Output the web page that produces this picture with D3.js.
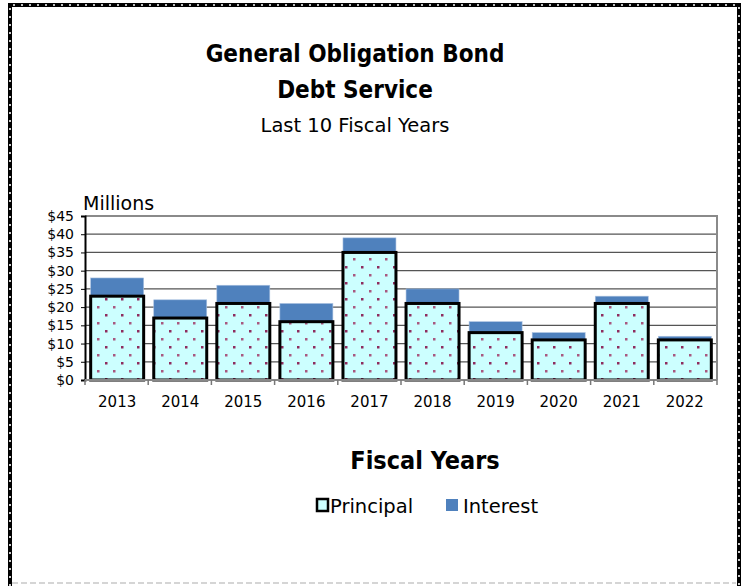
<!DOCTYPE html>
<html>
<head>
<meta charset="utf-8">
<script src="https://cdn.jsdelivr.net/npm/d3@7"></script>
<style>
  body { margin: 0; background: #fff; }
  svg { display: block; }
</style>
</head>
<body>
<div id="chart"></div>
<script>
const years = ["2013", "2014", "2015", "2016", "2017", "2018", "2019", "2020", "2021", "2022"];
const principal = [23, 17, 21, 16, 35, 21, 13, 11, 21, 11];
const interest = [5, 5, 5, 5, 4, 4, 3, 2, 2, 1];
const yTicks = [0, 5, 10, 15, 20, 25, 30, 35, 40, 45];

const W = 741, H = 586;
const margin = {top: 216, right: 24, bottom: 206, left: 85};
const fontB = "Tahoma, 'DejaVu Sans Condensed', 'DejaVu Sans', sans-serif";
const fontR = "Tahoma, 'DejaVu Sans', sans-serif";

function draw_chart(wrapper)
{
  let svg = d3.select(wrapper).append("svg").attr("width", W).attr("height", H);

  let visWidth = W - margin.left - margin.right;
  let visHeight = H - margin.top - margin.bottom;

  // dotted fill for principal bars
  let pat = svg.append("defs").append("pattern")
    .attr("id", "dots")
    .attr("patternUnits", "userSpaceOnUse")
    .attr("width", 16).attr("height", 16)
    .attr("x", 4).attr("y", 2);
  pat.append("rect").attr("width", 16).attr("height", 16).attr("fill", "#ccffff");
  pat.append("rect").attr("x", 0).attr("y", 0).attr("width", 2.5).attr("height", 2.5).attr("fill", "#8e2b5e");
  pat.append("rect").attr("x", 8).attr("y", 8).attr("width", 2.5).attr("height", 2.5).attr("fill", "#a8587f");

  // frame
  let frame = svg.append("g");
  frame.append("line").attr("x1", 12).attr("x2", 736).attr("y1", 583).attr("y2", 583)
    .attr("stroke", "#c8c8c8").attr("stroke-width", 1.5).attr("stroke-dasharray", "6,3");
  let fpath = "M10,586 L10,5 L739,5 L739,586";
  frame.append("path").attr("d", fpath).attr("fill", "none")
    .attr("stroke", "#000").attr("stroke-width", 4);
  frame.append("path").attr("d", fpath).attr("fill", "none")
    .attr("stroke", "#fff").attr("stroke-width", 1.6).attr("stroke-dasharray", "2,6");

  // titles
  svg.append("text").attr("x", 355).attr("y", 62).attr("text-anchor", "middle")
    .attr("font-family", fontB).attr("font-size", "24px").attr("font-weight", "bold")
    .text("General Obligation Bond");
  svg.append("text").attr("x", 355).attr("y", 98).attr("text-anchor", "middle")
    .attr("font-family", fontB).attr("font-size", "24px").attr("font-weight", "bold")
    .text("Debt Service");
  svg.append("text").attr("x", 355).attr("y", 132).attr("text-anchor", "middle")
    .attr("font-family", fontR).attr("font-size", "19.5px")
    .text("Last 10 Fiscal Years");

  const g = svg.append("g").attr("transform", `translate(${margin.left}, ${margin.top})`);

  let y = d3.scaleLinear().domain([0, 45]).range([visHeight, 0]);
  let x = d3.scaleBand().domain(years).range([0, visWidth]).paddingInner(0.16).paddingOuter(0.09);

  // gridlines
  g.selectAll(".grid")
    .data(yTicks.slice(1))
    .join("line")
      .attr("x1", 0).attr("x2", visWidth)
      .attr("y1", d => y(d)).attr("y2", d => y(d))
      .attr("stroke", "#555").attr("stroke-width", 1.2);

  // plot border top/right
  g.append("path")
    .attr("d", `M0,${y(45)} L${visWidth},${y(45)} L${visWidth},${visHeight}`)
    .attr("fill", "none").attr("stroke", "#8a8a8a").attr("stroke-width", 2);

  let data = years.map((yr, i) => ({year: yr, p: principal[i], i: interest[i]}));

  // interest segment
  g.selectAll(".int")
    .data(data)
    .join("rect")
      .attr("x", d => x(d.year))
      .attr("width", x.bandwidth())
      .attr("y", d => y(d.p + d.i))
      .attr("height", d => y(d.p) - y(d.p + d.i))
      .attr("fill", "#4f81bd")
      .attr("stroke", "#a9c0e0").attr("stroke-width", 0.6);

  // principal segment
  g.selectAll(".prin")
    .data(data)
    .join("rect")
      .attr("x", d => x(d.year))
      .attr("width", x.bandwidth())
      .attr("y", d => y(d.p))
      .attr("height", d => visHeight - y(d.p))
      .attr("fill", "url(#dots)")
      .attr("stroke", "#000").attr("stroke-width", 3);

  // y axis
  let yAxis = d3.axisLeft(y).tickValues(yTicks).tickSize(4).tickFormat(d => "$" + d);
  let ya = g.append("g").call(yAxis);
  ya.select(".domain").attr("stroke", "#000").attr("stroke-width", 2);
  ya.selectAll(".tick line").attr("stroke", "#000");
  ya.selectAll("text").attr("font-family", fontR).attr("font-size", "14px").attr("fill", "#000").attr("x", -11);

  // x axis: ticks between categories
  let xa = g.append("g").attr("transform", `translate(0, ${visHeight})`);
  xa.append("line").attr("x1", 0).attr("x2", visWidth).attr("y1", 0).attr("y2", 0)
    .attr("stroke", "#888").attr("stroke-width", 2);
  xa.selectAll(".sep")
    .data(d3.range(years.length + 1))
    .join("line")
      .attr("x1", d => d * visWidth / years.length)
      .attr("x2", d => d * visWidth / years.length)
      .attr("y1", 0).attr("y2", 5)
      .attr("stroke", "#777").attr("stroke-width", 1.5);
  xa.selectAll(".lab")
    .data(years)
    .join("text")
      .attr("x", d => x(d) + x.bandwidth() / 2)
      .attr("y", 27)
      .attr("text-anchor", "middle")
      .attr("font-family", fontR).attr("font-size", "15px")
      .text(d => d);

  g.append("text").attr("x", -2).attr("y", -6)
    .attr("font-family", fontR).attr("font-size", "19px")
    .text("Millions");

  // x title
  svg.append("text").attr("x", 425).attr("y", 469).attr("text-anchor", "middle")
    .attr("font-family", fontB).attr("font-size", "25px").attr("font-weight", "bold")
    .text("Fiscal Years");

  // legend
  let leg = svg.append("g").attr("transform", "translate(316, 499)");
  leg.append("rect").attr("x", 1).attr("y", 0).attr("width", 11).attr("height", 12)
    .attr("fill", "#ccffff").attr("stroke", "#000").attr("stroke-width", 2.5);
  leg.append("text").attr("x", 14).attr("y", 14)
    .attr("font-family", fontR).attr("font-size", "19.5px").text("Principal");
  leg.append("rect").attr("x", 130).attr("y", 0).attr("width", 12).attr("height", 12)
    .attr("fill", "#4f81bd");
  leg.append("text").attr("x", 147).attr("y", 14)
    .attr("font-family", fontR).attr("font-size", "19.5px").text("Interest");
}

draw_chart("#chart");
</script>
</body>
</html>
